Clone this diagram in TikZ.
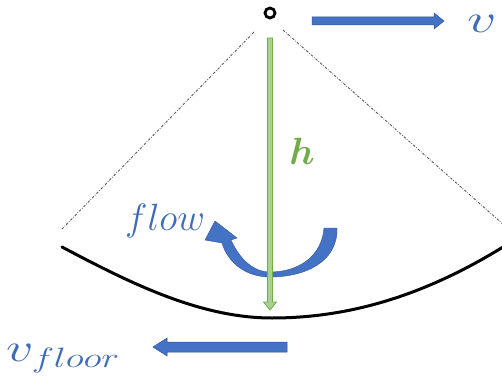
\RequirePackage{fix-cm}
\documentclass[tikz,border=0pt]{standalone}
\usepackage{amsmath}
\definecolor{myblue}{HTML}{4472C4}
\definecolor{bluedk}{HTML}{2F5597}
\definecolor{txtblue}{HTML}{3E6DB5}
\definecolor{mygreen}{HTML}{70AD47}
\definecolor{ltgreen}{HTML}{A9D18E}
\tikzset{
  guide/.style={draw=gray!70!black, line width=0.9pt, dash pattern=on 2.5pt off 1.5pt on 0.7pt off 1.5pt},
  blockarrow/.style={fill=myblue, draw=bluedk, line width=0.5pt},
  lbl/.style={inner sep=0pt, text=txtblue},
}
\begin{document}
\begin{tikzpicture}[x=1pt,y=-1pt]
\useasboundingbox (0,0) rectangle (502,387);
\clip (0,0) rectangle (502,387);

% guide lines
\coordinate (gl1) at (254,32);
\coordinate (gl2) at (62,229);
\coordinate (gr1) at (283,30);
\coordinate (gr2) at (504,225);
\draw[guide] (gl1) -- (gl2);
\draw[guide] (gr1) -- (gr2);

% floor arc
\coordinate (fa) at (62,247);
\coordinate (fb) at (272,318);
\coordinate (fc) at (503,247);
\draw[line width=3pt, line cap=round] (fa) .. controls (130,283) and (200,318) .. (fb)
  .. controls (355,318) and (430,292) .. (fc);

% flow arrow
\fill[myblue, draw=bluedk, line width=0.4pt, line join=miter]
  (337,228) .. controls (338,262) and (305,277) .. (270,277)
  .. controls (246,277) and (228,263) .. (222,243)
  -- (205,240) -- (215,221) -- (237,238) -- (231,240)
  .. controls (240,260) and (254,272) .. (270,272)
  .. controls (300,272) and (322,255) .. (324,228) -- cycle;

% green height arrow
\fill[ltgreen, draw=mygreen, line width=0.8pt]
  (267.5,38) -- (272.5,38) -- (272.5,302) -- (276.5,302) -- (270,310)
  -- (263.5,302) -- (267.5,302) -- cycle;

% pivot
\node[circle, draw, fill=white, line width=2.8pt, minimum size=10pt, inner sep=0pt] (pivot) at (270,13) {};

% top block arrow
\fill[blockarrow] (312,17) -- (434,17) -- (434,13) -- (444,21) -- (434,29) -- (434,25) -- (312,25) -- cycle;

% bottom block arrow
\fill[blockarrow] (287,342) -- (167,342) -- (167,338) -- (153,347) -- (167,356) -- (167,352) -- (287,352) -- cycle;

% labels
\node[lbl, anchor=base west] (v) at (467,33) {\scalebox{1.45}[1]{\fontsize{40}{44}\selectfont$v$}};
\node[lbl, anchor=base west] (vfloor) at (6,361) {\scalebox{1.35}[1]{\fontsize{40}{44}\selectfont$v_{floor}$}};
\node[lbl, anchor=base west] (flow) at (125,230) {\fontsize{38}{42}\selectfont$flow$};
\node[inner sep=0pt, text=mygreen] (h) at (302,151) {\fontsize{38}{42}\selectfont$\boldsymbol{h}$};
\end{tikzpicture}
\end{document}
